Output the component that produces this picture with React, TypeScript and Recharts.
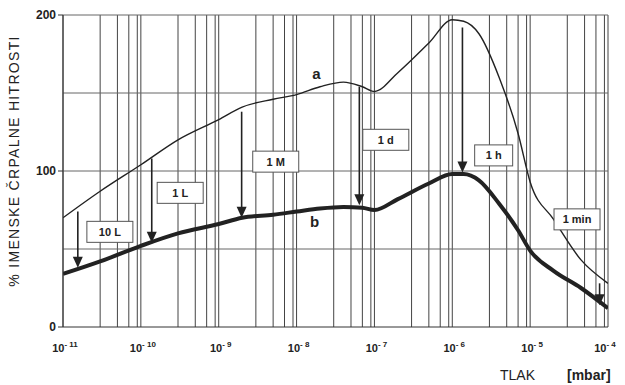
import { LineChart, Line, XAxis, YAxis, ReferenceLine, ReferenceDot } from 'recharts';

// pressure (mbar) and % of nominal pumping speed
const pressures = [1e-11, 3e-11, 1e-10, 3e-10, 1e-9, 2e-9, 5e-9, 1e-8, 2e-8, 4e-8, 7e-8, 1e-7, 2e-7, 5e-7, 1e-6, 1.4e-6, 2.2e-6, 4e-6, 7e-6, 1e-5, 2e-5, 4.5e-5, 1e-4];
const curveA = [70, 87, 104, 120, 133, 141, 146, 149, 154, 157, 154, 151, 163, 182, 197, 196, 188, 160, 124, 93, 69, 43, 28];
const curveB = [34, 42, 52, 60, 66, 70, 72, 74, 76, 77, 76.5, 75, 82, 92, 98, 98, 94, 79, 62, 49, 36, 25, 12];

// arrows from a to b
const arrowPressure = [1.55e-11, 1.38e-10, 1.97e-9, 6.4e-8, 1.35e-6, 7.8e-5];
const arrowFrom = [74, 108, 138, 154, 192, 28];
const arrowTo = [38, 54, 70, 78, 99, 14];

// boxed labels
const boxText = ['10 L', '1 L', '1 M', '1 d', '1 h', '1 min'];
const boxPressure = [4e-11, 3.2e-10, 5.4e-9, 1.4e-7, 3.4e-6, 4e-5];
const boxValue = [61, 86, 106, 120, 110, 69];

const xTicks = [1e-11, 1e-10, 1e-9, 1e-8, 1e-7, 1e-6, 1e-5, 1e-4];
const yTicks = [0, 100, 200];
const yGrid = [50, 100, 150, 200];
const minorMult = [3, 5, 7, 9];

const data = pressures.map((p, i) => ({ p, a: curveA[i], b: curveB[i] }));
const xGrid = xTicks.flatMap((t, i) => (i < xTicks.length - 1 ? [t, ...minorMult.map(m => t * m)] : [t]));

const FONT = '"Liberation Sans", Arial, sans-serif';

const XTick = (props: any) => {
  const { x, y, payload } = props;
  const exp = Math.round(Math.log10(payload.value));
  return (
    <text x={x + 2} y={y + 17} textAnchor="middle" fontFamily={FONT} fontWeight="bold" fill="#222">
      <tspan fontSize={11}>10</tspan>
      <tspan fontSize={8} dy={-5}>{`- ${-exp}`}</tspan>
    </text>
  );
};

const ArrowHead = (props: any) => {
  const { cx, cy } = props;
  return <path d={`M${cx},${cy} L${cx - 5},${cy - 11} L${cx + 5},${cy - 11} Z`} fill="#222" />;
};

const makeBox = (text: string) => (props: any) => {
  const { cx, cy } = props;
  const w = text === '1 h' ? 38 : 46;
  return (
    <g>
      <rect x={cx - w / 2} y={cy - 10.5} width={w} height={21} fill="#fff" stroke="#555" strokeWidth={1} />
      <text x={cx} y={cy + 4} textAnchor="middle" fontFamily={FONT} fontWeight="bold" fontSize={11} fill="#222">{text}</text>
    </g>
  );
};

export default function App() {
  return (
    <div style={{ position: 'absolute', left: 0, top: 0, background: '#fff' }}>
      <LineChart width={625} height={385} data={data} margin={{ top: 15, right: 17, left: 0, bottom: 0 }}>
        {xGrid.map(v => (
          <ReferenceLine key={'x' + v} x={v} stroke="#444" strokeWidth={1} ifOverflow="visible" />
        ))}
        {yGrid.map(v => (
          <ReferenceLine key={'y' + v} y={v} stroke="#666" strokeWidth={1} />
        ))}
        <XAxis
          dataKey="p"
          type="number"
          scale="log"
          domain={[1e-11, 1e-4]}
          ticks={xTicks}
          tick={<XTick />}
          tickLine={false}
          axisLine={{ stroke: '#333' }}
          height={58}
          allowDataOverflow
          label={{
            content: () => (
              <g fontFamily={FONT} fontSize={14} fill="#222">
                <text x={500} y={380}>TLAK</text>
                <text x={567} y={380} fontWeight="bold">[mbar]</text>
              </g>
            ),
          }}
        />
        <YAxis
          type="number"
          domain={[0, 200]}
          ticks={yTicks}
          width={63}
          tickSize={5}
          tickLine={{ stroke: '#333' }}
          axisLine={{ stroke: '#333' }}
          tick={{ fontFamily: FONT, fontSize: 12, fontWeight: 'bold', fill: '#222' }}
          label={{
            content: () => (
              <text
                x={19}
                y={161}
                transform="rotate(-90 19 161)"
                textAnchor="middle"
                fontFamily={FONT}
                fontSize={14}
                letterSpacing={1.3}
                fill="#222"
              >
                % IMENSKE ČRPALNE HITROSTI
              </text>
            ),
          }}
        />
        <Line dataKey="a" type="monotone" stroke="#222" strokeWidth={1.4} dot={false} isAnimationActive={false} />
        <Line dataKey="b" type="monotone" stroke="#222" strokeWidth={4} dot={false} isAnimationActive={false} />
        {arrowPressure.map((p, i) => (
          <ReferenceLine
            key={'al' + i}
            segment={[{ x: p, y: arrowFrom[i] }, { x: p, y: arrowTo[i] + 3 }]}
            stroke="#222"
            strokeWidth={1.6}
          />
        ))}
        {arrowPressure.map((p, i) => (
          <ReferenceDot key={'ah' + i} x={p} y={arrowTo[i]} r={5} shape={<ArrowHead />} />
        ))}
        {boxText.map((t, i) => (
          <ReferenceDot key={'bx' + i} x={boxPressure[i]} y={boxValue[i]} r={5} shape={makeBox(t)} />
        ))}
        <ReferenceDot x={1.8e-8} y={162} r={5} shape={(p: any) => (
          <text x={p.cx} y={p.cy + 5} textAnchor="middle" fontFamily={FONT} fontWeight="bold" fontSize={15} fill="#222">a</text>
        )} />
        <ReferenceDot x={1.7e-8} y={67} r={5} shape={(p: any) => (
          <text x={p.cx} y={p.cy + 5} textAnchor="middle" fontFamily={FONT} fontWeight="bold" fontSize={15} fill="#222">b</text>
        )} />
      </LineChart>
    </div>
  );
}
